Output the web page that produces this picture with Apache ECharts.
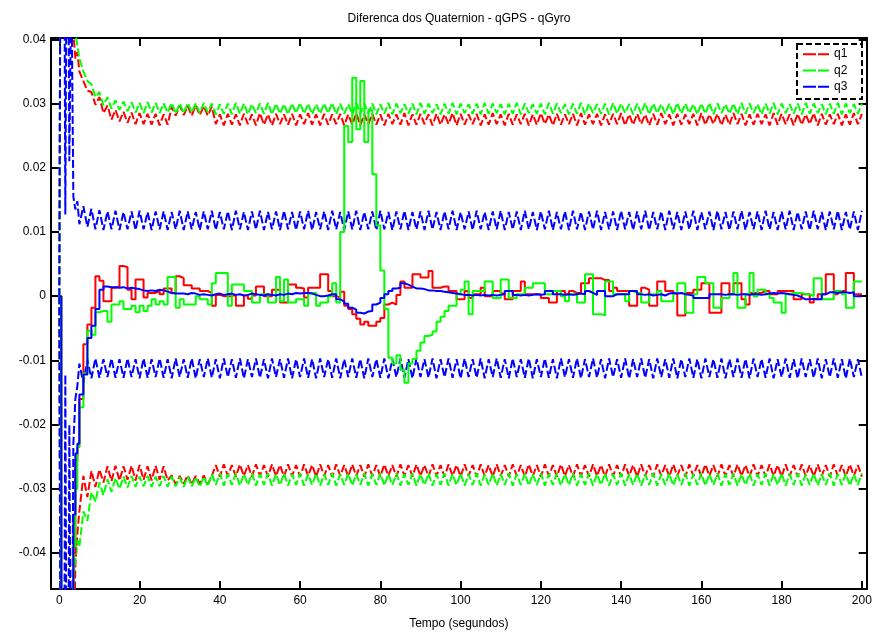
<!DOCTYPE html>
<html><head><meta charset="utf-8">
<script src="https://cdn.jsdelivr.net/npm/echarts@6/dist/echarts.min.js"></script>
<style>html,body{margin:0;padding:0;background:#fff}#c{width:876px;height:635px}</style>
</head><body><div id="c"></div>
<script>
const titleText = 'Diferenca dos Quaternion - qGPS - qGyro';
const xName = 'Tempo (segundos)';
const legendNames = ['q1', 'q2', 'q3'];
const xTicks = [0, 20, 40, 60, 80, 100, 120, 140, 160, 180, 200];
const yTicks = [-0.04, -0.03, -0.02, -0.01, 0, 0.01, 0.02, 0.03, 0.04];

// sample times (s): half-second steps at start, then one-second steps
const time = [0, 0.5, 1, 1.5, 2, 2.5, 3, 3.5, 4, 4.5];
for (let s = 5; s <= 200; s++) time.push(s);

// estimation errors (solid)
const q1Err = [0,-.1,-.1,-.1,-.1,-.1,-.06,-.04,-.0255,-.0235,
-.016,-.0075,-.0044,-.0018,.0031,.0024,-.0008,-.0008,.0013,.0015,
.0047,.0045,.001,-.0005,.0026,.0026,-.0002,.0005,.0005,.0008,
.0003,.0012,.0012,.0005,.0031,.0028,.0017,.0017,.0012,.0012,
.0008,.0008,.0005,-.0015,.0002,0,0,0,.0002,-.0015,
-.0015,.0001,-.0004,.0001,.0015,.0015,0,0,.001,.001,
-.001,-.001,.0018,.0018,.0013,.0012,-.0002,.0013,.0013,.0013,
.0034,.0034,.0008,0,-.0002,.0007,-.0015,-.002,-.0028,-.0035,
-.0044,-.004,-.0046,-.0046,-.004,-.0034,-.0013,-.001,-.0013,.0002,
.0023,.0013,.0013,.0034,.0034,.0029,.0029,.0039,.0013,.0013,
.0015,.0015,.0008,.0008,-.0005,-.0005,.0008,-.0003,.0003,.0003,
.0013,0,0,.0008,.0008,.0004,-.0005,-.0005,.0008,.0008,
.0023,.0003,.0003,.0003,.0003,-.0003,-.0003,-.001,-.001,.0008,
.0008,.0003,.0008,.0005,.0005,.002,.002,.0028,.0028,.0028,
.0025,.0025,.0008,.0013,.0008,.0008,.0008,-.0015,-.0015,.0005,
.0013,.001,-.0015,-.0015,.0023,.0023,.0008,.0008,.0004,-.003,
-.003,.0005,.0005,.001,.001,.002,.002,-.0026,-.0026,-.0026,
.002,.002,.0003,.002,.002,-.0005,-.0013,.0005,.0005,.0005,
.0008,.0008,.0003,.0003,.0008,.0008,.0008,.0008,-.0005,-.0005,
.0003,.0003,-.001,-.0005,.0003,.0003,.0034,.0034,.0003,.0008,
.0008,.0036,.0036,.0003,.0003,.0003];
const q2Err = [0,-.1,-.1,-.1,-.1,-.1,-.06,-.039,-.03,-.0235,
-.0173,-.012,-.0054,-.006,-.0025,-.0023,-.0023,-.004,-.0013,-.0013,
-.0008,-.002,-.002,-.0015,-.0025,-.0015,-.0023,-.0015,-.0005,-.0013,
-.0008,-.0013,.003,.003,-.0018,-.0005,-.0013,-.0013,-.0013,0,
-.0005,-.0005,-.0013,.002,.0036,.0036,.0036,-.0015,.0018,.0018,
.0018,.0008,.0008,-.001,-.001,.0003,.0003,-.001,-.001,.003,
-.0008,.0026,-.001,-.001,-.0005,-.0005,-.0015,.0005,.0005,-.0015,
-.001,-.001,0,.002,-.001,.01,.0265,.024,.034,.026,
.0335,.024,.029,.019,.011,.004,-.002,-.0096,-.0105,-.0092,
-.0115,-.0135,-.0105,-.0098,-.0085,-.0072,-.0062,-.006,-.0055,-.004,
-.0032,-.0023,-.0015,-.0015,.0003,.001,.0023,-.0028,.0008,.0008,
.0008,.0023,.0023,-.0003,-.0003,.0026,.0026,-.0003,-.0003,.0003,
.0003,.0013,.0013,.002,.002,.002,.0003,.0003,.0008,.0008,
0,-.0008,.0003,.0003,-.001,-.001,.0034,.0034,-.0028,-.0028,
-.003,.0023,.0023,.0003,.0003,.0003,-.0008,.0008,.0005,.0005,
-.001,-.001,.0003,.0003,.0008,-.0008,-.0008,-.0008,.0005,.002,
.002,-.0026,-.0026,.0003,.003,.003,.002,.002,-.0018,-.0018,
-.0003,-.0003,.0003,.0036,-.0018,-.0018,.0003,.0036,0,.001,
.001,.0003,-.0003,-.001,-.001,-.0026,.0003,.0005,.0005,.0005,
.0003,.0003,0,.0028,.0028,-.0005,-.0005,-.0005,.0008,.0008,
.0003,-.0018,-.0018,.0023,.0023,.0023];
const q3Err = [0,-.1,-.1,-.1,-.1,-.1,-.06,-.034,-.0245,-.023,
-.0153,-.0122,-.0065,-.0046,-.002,.001,.0015,.0014,.0014,.0013,
.0014,.0012,.0013,.0012,.0011,.0009,.0008,.0009,.0008,.001,
.0009,.0007,.0005,.0004,.0004,.0004,.0003,.0005,.0004,.0002,
.0003,.0002,.0001,.0003,.0004,.0002,.0003,.0004,.0002,.0003,
.0001,.0002,.0004,.0003,.0002,.0001,.0003,.0002,.0001,.0003,
.0002,.0004,.0003,.0005,.0004,.0005,.0005,.0004,.0002,0,
0,.0001,.0003,.0003,-.0005,-.0008,-.0012,-.0018,-.0021,-.0026,
-.0027,-.0024,-.0023,-.0013,-.001,-.0003,.0003,.0008,.0012,.0013,
.002,.0018,.0015,.0012,.0012,.0011,.0009,.0009,.0008,.0008,
.0007,.0006,.0005,.0004,.0003,.0002,.0002,.0001,.0002,.0001,
.0002,.0001,.0002,.0001,.0002,.0003,.0008,.0008,.0002,.0001,
.0002,.0001,.0002,.0003,.0002,.0003,.0008,.0008,.0003,.0003,
.0002,.0003,.0002,.0003,.0004,.0003,.0008,.0005,.0002,.0008,
.0008,0,0,.0003,.0003,.0003,.0003,.0008,.0008,.0003,
.0002,.0003,.0001,.0002,.0003,.0001,.0004,.0005,.0004,.0005,
.0003,.0002,.0001,-.0003,-.0003,-.0003,-.0003,.0003,.0003,.0003,
.0002,.0003,.0003,.0002,.0003,.0003,.0002,.0003,.0003,.0002,
.0003,.0004,.0005,.0004,.0005,.0004,.0003,.0002,.0001,-.0002,
-.0005,-.0005,-.0004,-.0005,-.0005,.0003,.0006,.0006,.0005,.0006,
.0006,.0005,.0006,0,0,0];

// upper bounds (dashed)
const q1Upper = [0,.1,.1,.1,.1,.08,.045,.041,.037,.038,
.035,.0335,.032,.0318,.0298,.031,.0285,.0297,.0275,.029,
.0272,.0287,.027,.0286,.0268,.0285,.0268,.0284,.0267,.0284,
.0266,.0283,.0267,.0295,.0281,.0297,.0282,.0296,.0281,.0297,
.0282,.0296,.0281,.0295,.0268,.0283,.0266,.0284,.0267,.0283,
.0266,.0284,.0268,.0283,.0266,.0285,.0267,.0283,.0266,.0284,
.0268,.0283,.0267,.0284,.0266,.0283,.0268,.0285,.0267,.0283,
.0266,.0284,.0267,.0283,.0268,.0284,.0266,.0283,.0267,.0285,
.0266,.0283,.0268,.0284,.0267,.0283,.0266,.0284,.0268,.0283,
.0267,.0285,.0266,.0283,.0267,.0284,.0268,.0283,.0266,.0284,
.0267,.0283,.0268,.0285,.0266,.0284,.0267,.0283,.0268,.0284,
.0266,.0283,.0267,.0285,.0268,.0283,.0266,.0284,.0267,.0283,
.0268,.0284,.0266,.0283,.0267,.0285,.0268,.0283,.0266,.0284,
.0267,.0283,.0268,.0284,.0266,.0285,.0267,.0283,.0268,.0284,
.0266,.0283,.0267,.0284,.0268,.0285,.0266,.0283,.0267,.0284,
.0268,.0283,.0266,.0284,.0267,.0285,.0268,.0283,.0266,.0284,
.0267,.0283,.0268,.0284,.0266,.0285,.0267,.0283,.0268,.0284,
.0266,.0283,.0267,.0285,.0268,.0284,.0266,.0283,.0267,.0284,
.0268,.0283,.0266,.0285,.0267,.0284,.0268,.0283,.0266,.0284,
.0267,.0283,.0268,.0285,.0266,.0284,.0267,.0283,.0268,.0284,
.0266,.0283,.0267,.0285,.0268,.0284];
const q2Upper = [0,.1,.1,.1,.1,.1,.06,.045,.041,.039,
.037,.035,.0335,.033,.031,.0318,.0297,.031,.0292,.0305,
.029,.0303,.0288,.0302,.0286,.0301,.0285,.0302,.0286,.0301,
.0285,.03,.0286,.0301,.0284,.03,.0285,.0301,.0286,.03,
.0285,.0301,.0286,.03,.0283,.0299,.0284,.03,.0283,.0301,
.0284,.03,.0283,.0299,.0285,.03,.0284,.0301,.0283,.03,
.0284,.0299,.0283,.03,.0285,.0301,.0284,.03,.0283,.0299,
.0284,.03,.0285,.0301,.0283,.03,.0284,.0299,.0283,.0301,
.0284,.03,.0285,.03,.0283,.0299,.0284,.0301,.0283,.03,
.0285,.0299,.0284,.03,.0283,.0301,.0284,.03,.0285,.0299,
.0283,.03,.0284,.0301,.0283,.03,.0285,.0299,.0284,.03,
.0283,.0301,.0284,.03,.0285,.0299,.0283,.03,.0284,.0301,
.0283,.03,.0285,.0299,.0284,.03,.0283,.0301,.0284,.03,
.0285,.0299,.0283,.03,.0284,.0301,.0283,.03,.0285,.0299,
.0284,.03,.0283,.0301,.0284,.03,.0285,.0299,.0283,.03,
.0284,.0301,.0283,.03,.0285,.0299,.0284,.03,.0283,.0301,
.0284,.03,.0285,.0299,.0283,.03,.0284,.0301,.0283,.03,
.0285,.0299,.0284,.03,.0283,.0301,.0284,.03,.0285,.0299,
.0283,.03,.0284,.0301,.0283,.03,.0285,.0299,.0284,.03,
.0283,.0301,.0284,.03,.0285,.0299,.0283,.03,.0284,.0301,
.0283,.03,.0285,.0299,.0284,.03];
const q3Upper = [0,.1,.1,.0127,.08,.021,.05,.0155,.0135,.0148,
.0112,.014,.0108,.0136,.0104,.0134,.0103,.0132,.0104,.0133,
.0103,.0131,.0104,.0132,.0103,.0133,.0104,.0131,.0103,.0132,
.0104,.0132,.0103,.0131,.0104,.0133,.0103,.0132,.0104,.0131,
.0103,.0132,.0104,.0133,.0103,.0131,.0104,.0132,.0103,.0133,
.0104,.0131,.0103,.0132,.0104,.0133,.0103,.0131,.0104,.0132,
.0103,.0133,.0104,.0131,.0103,.0132,.0104,.0133,.0103,.0131,
.0104,.0132,.0103,.0133,.0104,.0131,.0103,.0132,.0104,.0133,
.0103,.0131,.0104,.0132,.0103,.0133,.0104,.0131,.0103,.0132,
.0104,.0133,.0103,.0131,.0104,.0132,.0103,.0133,.0104,.0131,
.0103,.0132,.0104,.0133,.0103,.0131,.0104,.0132,.0103,.0133,
.0104,.0131,.0103,.0132,.0104,.0133,.0103,.0131,.0104,.0132,
.0103,.0133,.0104,.0131,.0103,.0132,.0104,.0133,.0103,.0131,
.0104,.0132,.0103,.0133,.0104,.0131,.0103,.0132,.0104,.0133,
.0103,.0131,.0104,.0132,.0103,.0133,.0104,.0131,.0103,.0132,
.0104,.0133,.0103,.0131,.0104,.0132,.0103,.0133,.0104,.0131,
.0103,.0132,.0104,.0133,.0103,.0131,.0104,.0132,.0103,.0133,
.0104,.0131,.0103,.0132,.0104,.0133,.0103,.0131,.0104,.0132,
.0103,.0133,.0104,.0131,.0103,.0132,.0104,.0133,.0103,.0131,
.0104,.0132,.0103,.0133,.0104,.0131,.0103,.0132,.0104,.0133,
.0103,.0131,.0104,.0132,.0103,.0133];

// lower bounds (dashed)
const q1Lower = [0,-.1,-.1,-.1,-.1,-.1,-.1,-.06,-.042,-.037,
-.0335,-.028,-.0313,-.0272,-.0297,-.027,-.029,-.0265,-.0288,-.0264,
-.0287,-.0265,-.0286,-.0264,-.0287,-.0263,-.0286,-.0265,-.0287,-.0264,
-.0286,-.0265,-.0287,-.0279,-.0293,-.028,-.0292,-.0279,-.0293,-.028,
-.0292,-.0279,-.0293,-.028,-.0263,-.0281,-.0262,-.028,-.0263,-.0281,
-.0262,-.028,-.0263,-.0281,-.0262,-.028,-.0263,-.0281,-.0262,-.028,
-.0263,-.0281,-.0262,-.028,-.0263,-.0281,-.0262,-.028,-.0263,-.0281,
-.0262,-.028,-.0263,-.0281,-.0262,-.028,-.0263,-.0281,-.0262,-.028,
-.0263,-.0281,-.0262,-.028,-.0263,-.0281,-.0262,-.028,-.0263,-.0281,
-.0262,-.028,-.0263,-.0281,-.0262,-.028,-.0263,-.0281,-.0262,-.028,
-.0263,-.0281,-.0262,-.028,-.0263,-.0281,-.0262,-.028,-.0263,-.0281,
-.0262,-.028,-.0263,-.0281,-.0262,-.028,-.0263,-.0281,-.0262,-.028,
-.0263,-.0281,-.0262,-.028,-.0263,-.0281,-.0262,-.028,-.0263,-.0281,
-.0262,-.028,-.0263,-.0281,-.0262,-.028,-.0263,-.0281,-.0262,-.028,
-.0263,-.0281,-.0262,-.028,-.0263,-.0281,-.0262,-.028,-.0263,-.0281,
-.0262,-.028,-.0263,-.0281,-.0262,-.028,-.0263,-.0281,-.0262,-.028,
-.0263,-.0281,-.0262,-.028,-.0263,-.0281,-.0262,-.028,-.0263,-.0281,
-.0262,-.028,-.0263,-.0281,-.0262,-.028,-.0263,-.0281,-.0262,-.028,
-.0263,-.0281,-.0262,-.028,-.0263,-.0281,-.0262,-.028,-.0263,-.0281,
-.0262,-.028,-.0263,-.0281,-.0262,-.028,-.0263,-.0281,-.0262,-.028,
-.0263,-.0281,-.0262,-.028,-.0263,-.0281];
const q2Lower = [0,-.1,-.1,-.1,-.1,-.1,-.05,-.044,-.041,-.038,
-.039,-.0335,-.035,-.0305,-.032,-.029,-.031,-.0285,-.0305,-.0283,
-.03,-.0281,-.0298,-.028,-.0297,-.0281,-.0296,-.028,-.0297,-.0281,
-.0296,-.028,-.0297,-.0281,-.0296,-.0282,-.0297,-.0281,-.0296,-.0282,
-.0297,-.0281,-.0296,-.0277,-.0294,-.0276,-.0295,-.0277,-.0294,-.0276,
-.0295,-.0277,-.0294,-.0276,-.0295,-.0277,-.0294,-.0276,-.0295,-.0277,
-.0294,-.0276,-.0295,-.0277,-.0294,-.0276,-.0295,-.0277,-.0294,-.0276,
-.0295,-.0277,-.0294,-.0276,-.0295,-.0277,-.0294,-.0276,-.0295,-.0277,
-.0294,-.0276,-.0295,-.0277,-.0294,-.0276,-.0295,-.0277,-.0294,-.0276,
-.0295,-.0277,-.0294,-.0276,-.0295,-.0277,-.0294,-.0276,-.0295,-.0277,
-.0294,-.0276,-.0295,-.0277,-.0294,-.0276,-.0295,-.0277,-.0294,-.0276,
-.0295,-.0277,-.0294,-.0276,-.0295,-.0277,-.0294,-.0276,-.0295,-.0277,
-.0294,-.0276,-.0295,-.0277,-.0294,-.0276,-.0295,-.0277,-.0294,-.0276,
-.0295,-.0277,-.0294,-.0276,-.0295,-.0277,-.0294,-.0276,-.0295,-.0277,
-.0294,-.0276,-.0295,-.0277,-.0294,-.0276,-.0295,-.0277,-.0294,-.0276,
-.0295,-.0277,-.0294,-.0276,-.0295,-.0277,-.0294,-.0276,-.0295,-.0277,
-.0294,-.0276,-.0295,-.0277,-.0294,-.0276,-.0295,-.0277,-.0294,-.0276,
-.0295,-.0277,-.0294,-.0276,-.0295,-.0277,-.0294,-.0276,-.0295,-.0277,
-.0294,-.0276,-.0295,-.0277,-.0294,-.0276,-.0295,-.0277,-.0294,-.0276,
-.0295,-.0277,-.0294,-.0276,-.0295,-.0277,-.0294,-.0276,-.0295,-.0277,
-.0294,-.0276,-.0295,-.0277,-.0294,-.0276];
const q3Lower = [0,-.1,-.1,-.0122,-.1,-.02,-.08,-.023,-.016,-.014,
-.0105,-.0135,-.0099,-.0128,-.0097,-.0127,-.0098,-.0126,-.0097,-.0127,
-.0098,-.0127,-.0097,-.0126,-.0098,-.0128,-.0097,-.0127,-.0098,-.0126,
-.0097,-.0127,-.0098,-.0128,-.0097,-.0126,-.0098,-.0127,-.0097,-.0128,
-.0098,-.0126,-.0097,-.0127,-.0098,-.0128,-.0097,-.0126,-.0098,-.0127,
-.0097,-.0128,-.0098,-.0126,-.0097,-.0127,-.0098,-.0128,-.0097,-.0126,
-.0098,-.0127,-.0097,-.0128,-.0098,-.0126,-.0097,-.0127,-.0098,-.0128,
-.0097,-.0126,-.0098,-.0127,-.0097,-.0128,-.0098,-.0126,-.0097,-.0127,
-.0098,-.0128,-.0097,-.0126,-.0098,-.0127,-.0097,-.0128,-.0098,-.0126,
-.0097,-.0127,-.0098,-.0128,-.0097,-.0126,-.0098,-.0127,-.0097,-.0128,
-.0098,-.0126,-.0097,-.0127,-.0098,-.0128,-.0097,-.0126,-.0098,-.0127,
-.0097,-.0128,-.0098,-.0126,-.0097,-.0127,-.0098,-.0128,-.0097,-.0126,
-.0098,-.0127,-.0097,-.0128,-.0098,-.0126,-.0097,-.0127,-.0098,-.0128,
-.0097,-.0126,-.0098,-.0127,-.0097,-.0128,-.0098,-.0126,-.0097,-.0127,
-.0098,-.0128,-.0097,-.0126,-.0098,-.0127,-.0097,-.0128,-.0098,-.0126,
-.0097,-.0127,-.0098,-.0128,-.0097,-.0126,-.0098,-.0127,-.0097,-.0128,
-.0098,-.0126,-.0097,-.0127,-.0098,-.0128,-.0097,-.0126,-.0098,-.0127,
-.0097,-.0128,-.0098,-.0126,-.0097,-.0127,-.0098,-.0128,-.0097,-.0126,
-.0098,-.0127,-.0097,-.0128,-.0098,-.0126,-.0097,-.0127,-.0098,-.0128,
-.0097,-.0126,-.0098,-.0127,-.0097,-.0128,-.0098,-.0126,-.0097,-.0127,
-.0098,-.0128,-.0097,-.0126,-.0098,-.0127];

const RED = '#ff0000', GREEN = '#00ff00', BLUE = '#0000ff';
const FONT = 'Liberation Sans, Arial, sans-serif';
const pairs = arr => time.map((t, i) => [t, arr[i]]);

function boundSeries(name, arr, color) {
  return { name: name, type: 'line', data: pairs(arr), showSymbol: false, symbol: 'none',
    animation: false, clip: true, z: 2,
    itemStyle: { color: color },
    lineStyle: { color: color, width: 2, type: [8, 3] } };
}
function errSeries(name, arr, color) {
  return { name: name, type: 'line', data: pairs(arr), showSymbol: false, symbol: 'none',
    animation: false, clip: true, step: 'end', z: 3,
    itemStyle: { color: color },
    lineStyle: { color: color, width: 2 } };
}

const axisLineStyle = { color: '#000', width: 2 };
const xAxisBase = { type: 'value', min: -2.07, max: 201.2, splitLine: { show: false } };
const yAxisBase = { type: 'value', min: -0.0456, max: 0.0402, splitLine: { show: false } };

const chart = echarts.init(document.getElementById('c'), null, { renderer: 'canvas' });
chart.setOption({
  animation: false,
  backgroundColor: '#fff',
  title: { text: titleText, left: 459, top: 13, padding: 0, textAlign: 'center',
    textStyle: { fontFamily: FONT, fontSize: 12, fontWeight: 'normal', color: '#000' } },
  grid: { left: 51, right: 9.3, top: 38, bottom: 42.3, containLabel: false },
  legend: {
    data: legendNames.map(n => ({ name: n,
      icon: 'path://M0,0H13V2H0Z M15,0H26V2H15Z' })),
    orient: 'vertical', left: 803, top: 47, itemWidth: 26, itemHeight: 2, itemGap: 2,
    padding: 0, z: 10, selectedMode: false,
    textStyle: { fontFamily: FONT, fontSize: 12, color: '#000', lineHeight: 14.3 }
  },
  graphic: [{ type: 'rect', z: 5, shape: { x: 797, y: 44, width: 65, height: 55 },
    style: { fill: '#fff', stroke: '#000', lineWidth: 2, lineDash: [6, 3] } }],
  xAxis: [
    Object.assign({}, xAxisBase, { position: 'bottom',
      name: xName, nameLocation: 'middle', nameGap: 29,
      nameTextStyle: { fontFamily: FONT, fontSize: 12, color: '#000' },
      axisLine: { show: true, onZero: false, lineStyle: axisLineStyle },
      axisTick: { show: true, inside: true, length: 8, customValues: xTicks, lineStyle: axisLineStyle },
      axisLabel: { show: true, customValues: xTicks, margin: 6, color: '#000', fontFamily: FONT, fontSize: 12 } }),
    Object.assign({}, xAxisBase, { position: 'top',
      axisLine: { show: true, onZero: false, lineStyle: axisLineStyle },
      axisTick: { show: true, inside: true, length: 8, customValues: xTicks, lineStyle: axisLineStyle },
      axisLabel: { show: false } })
  ],
  yAxis: [
    Object.assign({}, yAxisBase, { position: 'left',
      axisLine: { show: true, onZero: false, lineStyle: axisLineStyle },
      axisTick: { show: true, inside: true, length: 8, customValues: yTicks, lineStyle: axisLineStyle },
      axisLabel: { show: true, customValues: yTicks, margin: 5, color: '#000', fontFamily: FONT, fontSize: 12,
        formatter: v => (Math.abs(v) < 1e-9 ? '0' : v.toFixed(2)) } }),
    Object.assign({}, yAxisBase, { position: 'right',
      axisLine: { show: true, onZero: false, lineStyle: axisLineStyle },
      axisTick: { show: true, inside: true, length: 8, customValues: yTicks, lineStyle: axisLineStyle },
      axisLabel: { show: false } })
  ],
  series: [
    boundSeries('q1', q1Upper, RED),
    boundSeries('q2', q2Upper, GREEN),
    boundSeries('q3', q3Upper, BLUE),
    boundSeries('q1 inferior', q1Lower, RED),
    boundSeries('q2 inferior', q2Lower, GREEN),
    boundSeries('q3 inferior', q3Lower, BLUE),
    errSeries('q1 erro', q1Err, RED),
    errSeries('q2 erro', q2Err, GREEN),
    errSeries('q3 erro', q3Err, BLUE)
  ]
});
</script>
</body></html>
